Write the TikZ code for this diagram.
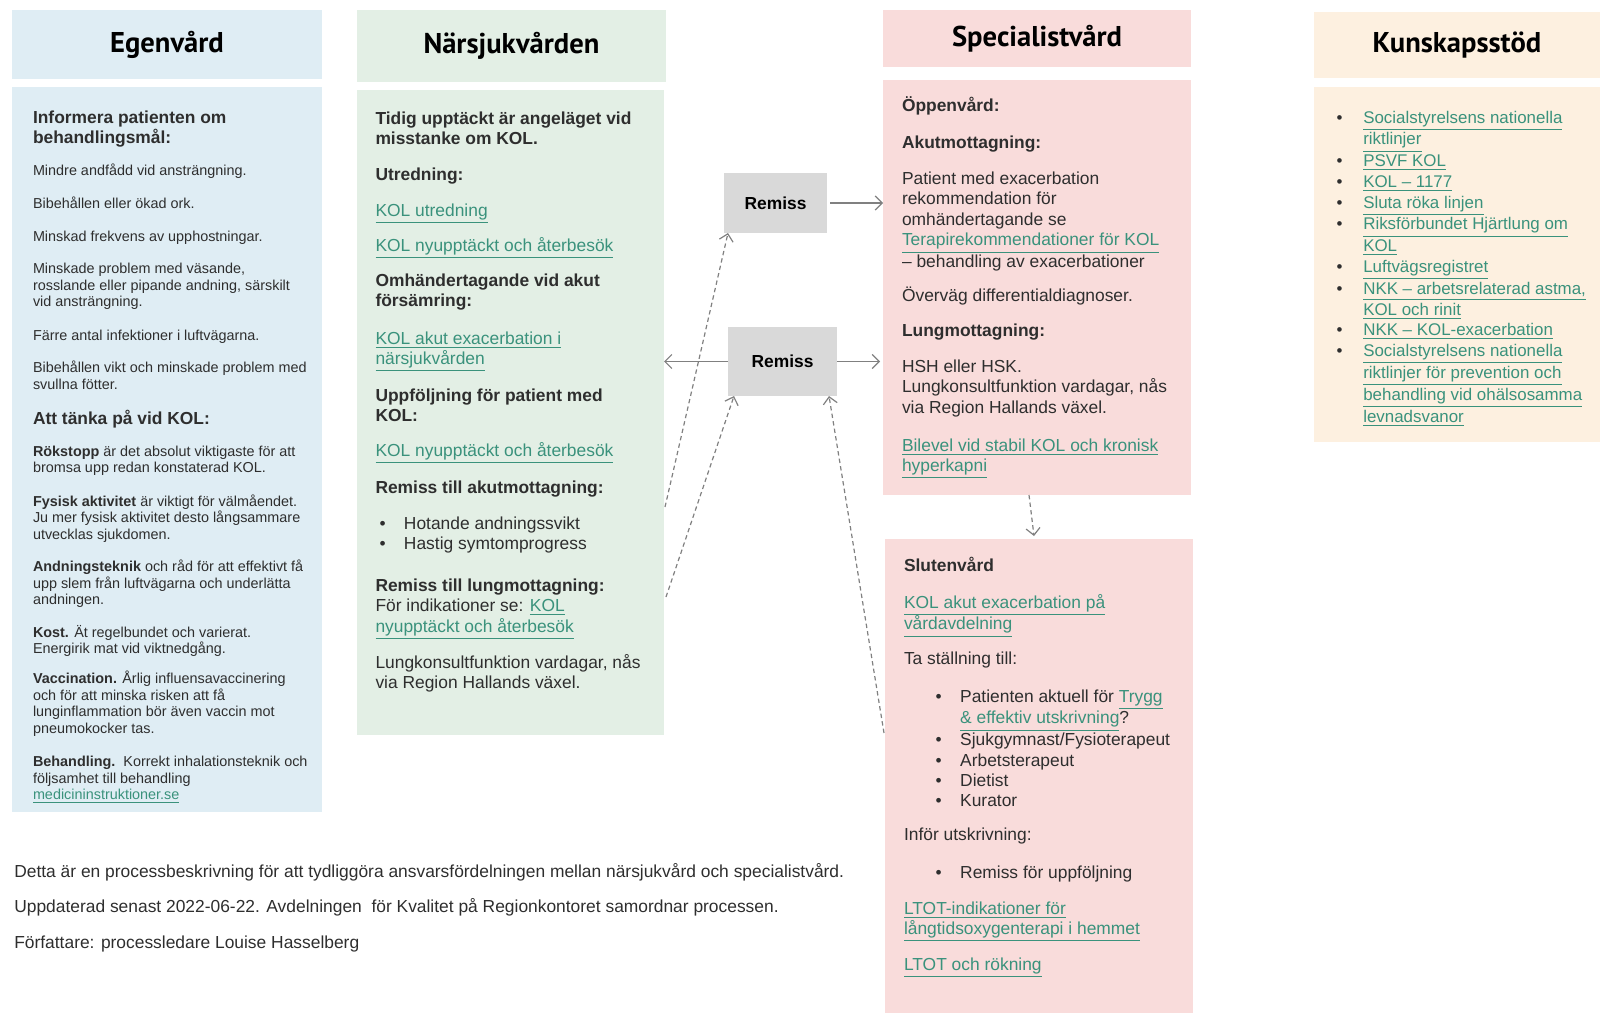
\documentclass[tikz,border=0pt]{standalone}
\usepackage{fontspec}
\setmainfont{Liberation Sans}
\newfontfamily\hdrfont{PT Sans}
\usetikzlibrary{arrows.meta}

\definecolor{egc}{HTML}{DFEDF4}
\definecolor{nac}{HTML}{E3EFE5}
\definecolor{spc}{HTML}{F9DCDB}
\definecolor{kuc}{HTML}{FDF0E0}
\definecolor{remc}{HTML}{D9D9D9}
\definecolor{linkc}{HTML}{3A927C}
\definecolor{txt}{HTML}{2E2E2E}
\definecolor{linec}{HTML}{808080}

\newcommand\lnk[1]{\textcolor{linkc}{\underline{#1}}}
\newcommand\bul[1]{\makebox[#1][l]{•}}
% text block whose baseline is that of its first line
\newcommand\tb[1]{\begin{tabular}[t]{@{}l@{}}#1\end{tabular}}

\tikzset{
  box/.style={draw=none, inner sep=0pt, outer sep=0pt},
  hdr/.style={box, text=black, font=\hdrfont\bfseries\fontsize{14.3}{16}\selectfont},
  tx/.style={anchor=base west, inner sep=0pt, outer sep=0pt, text=txt},
  egsmall/.style={tx, font=\fontsize{7.2}{8.3}\selectfont},
  eghead/.style={tx, font=\bfseries\fontsize{8.7}{9.7}\selectfont},
  body/.style={tx, font=\fontsize{8.7}{10.2}\selectfont},
  bodyb/.style={tx, font=\bfseries\fontsize{8.7}{10.2}\selectfont},
  kutext/.style={tx, font=\fontsize{8.45}{10.3}\selectfont},
  foot/.style={tx, font=\fontsize{8.7}{17.85}\selectfont},
  remiss/.style={box, fill=remc, text=black, font=\bfseries\fontsize{8.7}{10}\selectfont},
  arr/.style={draw=linec, line width=0.6pt, -{Straight Barb[length=3.5pt,width=7pt]}},
  dasharr/.style={arr, dash pattern=on 2.2pt off 1.6pt},
}

\begin{document}
\begin{tikzpicture}[x=0.5pt, y=-0.5pt]
\useasboundingbox (0,0) rectangle (1600,1013);

% column headers
\node[hdr, fill=egc, minimum width=155pt, minimum height=34.5pt] (egh) at (167,44.5) {Egenvård};
\node[hdr, fill=nac, minimum width=154.5pt, minimum height=36pt] (nah) at (511.5,46) {Närsjukvården};
\node[hdr, fill=spc, minimum width=154pt, minimum height=28.5pt] (sph) at (1037,38.5) {Specialistvård};
\node[hdr, fill=kuc, minimum width=143pt, minimum height=33pt] (kuh) at (1457,45) {Kunskapsstöd};

% column bodies
\node[box, fill=egc, minimum width=155pt, minimum height=362.5pt] (egb) at (167,449.5) {};
\node[box, fill=nac, minimum width=153.5pt, minimum height=322.5pt] (nab) at (510.5,412.5) {};
\node[box, fill=spc, minimum width=154pt, minimum height=207.5pt] (spb) at (1037,287.5) {};
\node[box, fill=spc, minimum width=154pt, minimum height=237pt] (slb) at (1039,776) {};
\node[box, fill=kuc, minimum width=143pt, minimum height=177.5pt] (kub) at (1457,264.5) {};

% referral boxes
\node[remiss, minimum width=51.5pt, minimum height=30pt] (r1) at (775.5,203) {Remiss};
\node[remiss, minimum width=54.5pt, minimum height=34.5pt] (r2) at (782.5,361.5) {Remiss};

% Egenvård
\node[eghead] (e1) at (33,123.5) {\tb{Informera patienten om\\behandlingsmål:}};
\node[egsmall] (e2) at (33,175.5) {\tb{Mindre andfådd vid ansträngning.}};
\node[egsmall] (e3) at (33,208) {\tb{Bibehållen eller ökad ork.}};
\node[egsmall] (e4) at (33,241) {\tb{Minskad frekvens av upphostningar.}};
\node[egsmall] (e5) at (33,273.5) {\tb{Minskade problem med väsande,\\rosslande eller pipande andning, särskilt\\vid ansträngning.}};
\node[egsmall] (e6) at (33,340) {\tb{Färre antal infektioner i luftvägarna.}};
\node[egsmall] (e7) at (33,372.5) {\tb{Bibehållen vikt och minskade problem med\\svullna fötter.}};
\node[eghead] (e8) at (33,424) {\tb{Att tänka på vid KOL:}};
\node[egsmall] (e9) at (33,456) {\tb{\textbf{Rökstopp} är det absolut viktigaste för att\\bromsa upp redan konstaterad KOL.}};
\node[egsmall] (e10) at (33,506) {\tb{\textbf{Fysisk aktivitet} är viktigt för välmåendet.\\Ju mer fysisk aktivitet desto långsammare\\utvecklas sjukdomen.}};
\node[egsmall] (e11) at (33,571.5) {\tb{\textbf{Andningsteknik} och råd för att effektivt få\\upp slem från luftvägarna och underlätta\\andningen.}};
\node[egsmall] (e12) at (33,637) {\tb{\textbf{Kost.} Ät regelbundet och varierat.\\Energirik mat vid viktnedgång.}};
\node[egsmall] (e13) at (33,683.5) {\tb{\textbf{Vaccination.} Årlig influensavaccinering\\och för att minska risken att få\\lunginflammation bör även vaccin mot\\pneumokocker tas.}};
\node[egsmall] (e14) at (33,766.5) {\tb{\textbf{Behandling.}\ \ Korrekt inhalationsteknik och\\följsamhet till behandling\\\lnk{medicininstruktioner.se}}};

% Närsjukvården
\node[bodyb] (n1) at (375.5,124.5) {\tb{Tidig upptäckt är angeläget vid\\misstanke om KOL.}};
\node[bodyb] (n2) at (375.5,180.5) {\tb{Utredning:}};
\node[body] (n3) at (375.5,216) {\tb{\lnk{KOL utredning}}};
\node[body] (n4) at (375.5,251) {\tb{\lnk{KOL nyupptäckt och återbesök}}};
\node[bodyb] (n5) at (375.5,286.5) {\tb{Omhändertagande vid akut\\försämring:}};
\node[body] (n6) at (375.5,344) {\tb{\lnk{KOL akut exacerbation i}\\\lnk{närsjukvården}}};
\node[bodyb] (n7) at (375.5,401) {\tb{Uppföljning för patient med\\KOL:}};
\node[body] (n8) at (375.5,456) {\tb{\lnk{KOL nyupptäckt och återbesök}}};
\node[bodyb] (n9) at (375.5,493) {\tb{Remiss till akutmottagning:}};
\node[body] (n10) at (379.6,529.5) {\tb{\bul{12.2pt}Hotande andningssvikt\\\bul{12.2pt}Hastig symtomprogress}};
\node[body] (n11) at (375.5,591.5) {\tb{\textbf{Remiss till lungmottagning:}\\För indikationer se: \lnk{KOL}\\\lnk{nyupptäckt och återbesök}}};
\node[body] (n12) at (375.5,668.5) {\tb{Lungkonsultfunktion vardagar, nås\\via Region Hallands växel.}};

% Specialistvård, öppenvård
\node[bodyb] (s1) at (902,111) {\tb{Öppenvård:}};
\node[bodyb] (s2) at (902,148.5) {\tb{Akutmottagning:}};
\node[body] (s3) at (902,184.5) {\tb{Patient med exacerbation\\rekommendation för\\omhändertagande se\\\lnk{Terapirekommendationer för KOL}\\– behandling av exacerbationer}};
\node[body] (s4) at (902,301) {\tb{Överväg differentialdiagnoser.}};
\node[bodyb] (s5) at (902,336.5) {\tb{Lungmottagning:}};
\node[body] (s6) at (902,372.3) {\tb{HSH eller HSK.\\Lungkonsultfunktion vardagar, nås\\via Region Hallands växel.}};
\node[body] (s7) at (902,451) {\tb{\lnk{Bilevel vid stabil KOL och kronisk}\\\lnk{hyperkapni}}};

% Specialistvård, slutenvård
\node[bodyb] (l1) at (904,571) {\tb{Slutenvård}};
\node[body] (l2) at (904,608) {\tb{\lnk{KOL akut exacerbation på}\\\lnk{vårdavdelning}}};
\node[body] (l3) at (904,664) {\tb{Ta ställning till:}};
\node[body] (l4) at (935.7,702) {\tb{\bul{12.25pt}Patienten aktuell för \lnk{Trygg}\\\hspace*{12.25pt}\lnk{\& effektiv utskrivning}?\\\bul{12.25pt}Sjukgymnast/Fysioterapeut\\\bul{12.25pt}Arbetsterapeut\\\bul{12.25pt}Dietist\\\bul{12.25pt}Kurator}};
\node[body] (l5) at (904,840.7) {\tb{Inför utskrivning:}};
\node[body] (l6) at (935.7,878.5) {\tb{\bul{12.25pt}Remiss för uppföljning}};
\node[body] (l7) at (904,914) {\tb{\lnk{LTOT-indikationer för}\\\lnk{långtidsoxygenterapi i hemmet}}};
\node[body] (l8) at (904,970) {\tb{\lnk{LTOT och rökning}}};

% Kunskapsstöd
\node[kutext] (k1) at (1336.7,123) {\tb{%
\bul{13.3pt}\lnk{Socialstyrelsens nationella}\\
\hspace*{13.3pt}\lnk{riktlinjer}\\
\bul{13.3pt}\lnk{PSVF KOL}\\
\bul{13.3pt}\lnk{KOL – 1177}\\
\bul{13.3pt}\lnk{Sluta röka linjen}\\
\bul{13.3pt}\lnk{Riksförbundet Hjärtlung om}\\
\hspace*{13.3pt}\lnk{KOL}\\
\bul{13.3pt}\lnk{Luftvägsregistret}\\
\bul{13.3pt}\lnk{NKK – arbetsrelaterad astma,}\\
\hspace*{13.3pt}\lnk{KOL och rinit}\\
\bul{13.3pt}\lnk{NKK – KOL-exacerbation}\\
\bul{13.3pt}\lnk{Socialstyrelsens nationella}\\
\hspace*{13.3pt}\lnk{riktlinjer för prevention och}\\
\hspace*{13.3pt}\lnk{behandling vid ohälsosamma}\\
\hspace*{13.3pt}\lnk{levnadsvanor}}};

% footer
\node[foot] (f1) at (14.3,877) {\tb{Detta är en processbeskrivning för att tydliggöra ansvarsfördelningen mellan närsjukvård och specialistvård.\\Uppdaterad senast 2022-06-22. Avdelningen\ \ för Kvalitet på Regionkontoret samordnar processen.\\Författare: processledare Louise Hasselberg}};

% connectors
\coordinate (d1) at (665,507);
\coordinate (d2) at (666,597);
\coordinate (d3) at (884,733);
\draw[arr, shorten <=1.5pt] (r1.east) -- (spb.west |- r1.east);
\draw[arr] (r2.east) -- ([xshift=-1.5pt]spb.west |- r2.east);
\draw[arr] (r2.west) -- (nab.east |- r2.west);
\draw[dasharr] (d1) -- ([xshift=2pt]r1.south west);
\draw[dasharr] (d2) -- ([xshift=3pt]r2.south west);
\draw[dasharr] (d3) -- ([xshift=-4pt]r2.south east);
\draw[dasharr] ([xshift=-4pt]spb.south) -- ([xshift=-2.5pt,yshift=1.5pt]slb.north);
\end{tikzpicture}
\end{document}
